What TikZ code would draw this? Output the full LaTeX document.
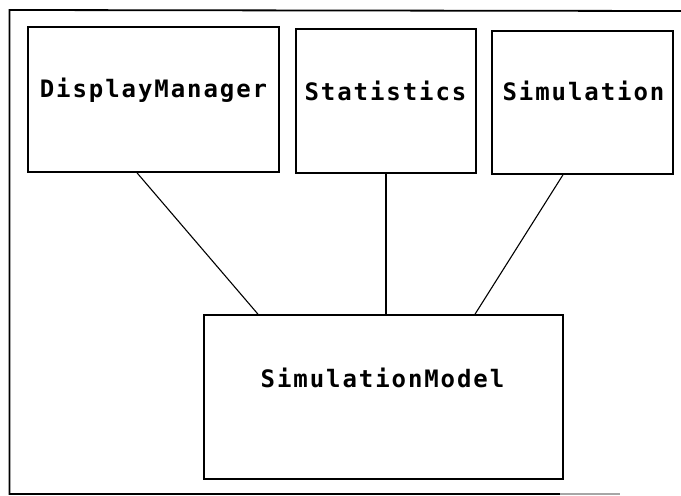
\documentclass[tikz,border=0pt]{standalone}
\usepackage{fontspec}
\newfontfamily\boxfont[LetterSpace=8]{DejaVu Sans Mono Bold}
\begin{document}
\begin{tikzpicture}[x=1pt,y=-1pt,
  classbox/.style={draw=black,line width=1.6pt,minimum width=#1,inner sep=0pt},
  lbl/.style={font=\boxfont\fontsize{24}{27}\selectfont,anchor=base,inner sep=0pt},
  conn/.style={draw=black,line width=1.1pt}]
\useasboundingbox (0,0) rectangle (681,496);
% outer frame (right side beyond the image)
\coordinate (ftr) at (681,11);
\coordinate (ftl) at (9.5,10);
\coordinate (fbl) at (9.5,494);
\coordinate (fbm) at (560,494);
\coordinate (fbr) at (620,494);
\draw[line width=1.8pt] (ftr) -- (ftl) -- (fbl) -- (fbm);
\draw[line width=1.4pt,black!35] (fbm) -- (fbr);
% boxes
\node[classbox=251pt,minimum height=145pt] (dm) at (153.5,99.5) {};
\node[classbox=180pt,minimum height=144pt] (st) at (386,101) {};
\node[classbox=181pt,minimum height=143pt] (si) at (582.5,102.5) {};
\node[classbox=359pt,minimum height=164pt] (sm) at (383.5,397) {};
% labels
\node[lbl] (tdm) at (153.5,97) {DisplayManager};
\node[lbl] (tst) at (385.5,100) {Statistics};
\node[lbl] (tsi) at (583.5,100) {Simulation};
\node[lbl] (tsm) at (382.5,387) {SimulationModel};
% connectors
\draw[conn] ([xshift=-16.5pt]dm.south) -- ([xshift=-125.5pt]sm.north);
\draw[conn] (st.south) -- (st.south |- sm.north);
\draw[conn] ([xshift=-19.5pt]si.south) -- ([xshift=91.5pt]sm.north);
\end{tikzpicture}
\end{document}
